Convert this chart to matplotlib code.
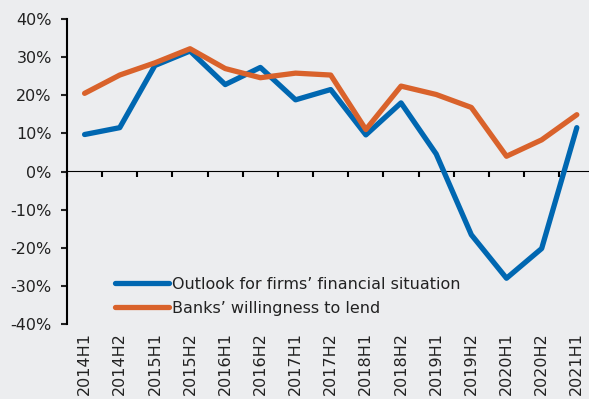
import matplotlib
matplotlib.use("Agg")
import matplotlib.pyplot as plt
from matplotlib.ticker import FuncFormatter
import numpy as np

periods = ["2014H1", "2014H2", "2015H1", "2015H2", "2016H1", "2016H2", "2017H1",
           "2017H2", "2018H1", "2018H2", "2019H1", "2019H2", "2020H1", "2020H2", "2021H1"]
outlook = [9.7, 11.5, 27.8, 31.6, 22.8, 27.3, 18.8, 21.5, 9.6, 18.0, 4.6, -16.6, -28.0, -20.2, 11.5]
willingness = [20.5, 25.3, 28.5, 32.2, 27.0, 24.6, 25.8, 25.3, 11.0, 22.4, 20.2, 16.8, 4.0, 8.3, 14.9]

bg = "#ECEDEF"
blue = "#0067B1"
orange = "#D9622B"

plt.rcParams["font.family"] = ["DejaVu Sans"]
plt.rcParams["font.size"] = 11.5

fig = plt.figure(figsize=(5.89, 3.99), dpi=100, facecolor=bg)
ax = fig.add_axes([67 / 589, 1 - 324 / 399, (594.4 - 67) / 589, (324 - 19) / 399])
ax.set_facecolor(bg)

x = np.arange(len(periods))
ax.plot(x, outlook, color=blue, lw=3.8, solid_capstyle="round", label="Outlook for firms\u2019 financial situation")
ax.plot(x, willingness, color=orange, lw=3.8, solid_capstyle="round", label="Banks\u2019 willingness to lend")

ax.set_xlim(-0.5, len(periods) - 0.5)
ax.set_ylim(-40, 40)
ax.set_yticks(np.arange(-40, 41, 10))
ax.yaxis.set_major_formatter(FuncFormatter(lambda v, p: f"{v:.0f}%"))
ax.tick_params(axis="y", direction="out", length=4, width=1.5, pad=7, colors="#222222")

# category labels sit below the plot; the zero line carries the boundary ticks
ax.set_xticks(x)
ax.set_xticklabels(periods, rotation=90, color="#222222")
ax.tick_params(axis="x", length=0, pad=6)

for s in ["top", "right", "bottom"]:
    ax.spines[s].set_visible(False)
ax.spines["left"].set_linewidth(1.5)

zero = ax.secondary_xaxis(0.5)
zero.set_xticks(np.arange(-0.5, len(periods), 1.0))
zero.set_xticklabels([])
zero.tick_params(direction="in", length=4, width=1.5)
zero.spines["bottom"].set_linewidth(1.5)

leg = ax.legend(loc="lower left", bbox_to_anchor=(0.063, -0.02), frameon=False,
                handlelength=3.4, handletextpad=0.2, labelspacing=0.55, fontsize=11.5)
for t in leg.get_texts():
    t.set_color("#222222")

fig.savefig("out.png", dpi=100, facecolor=bg)
